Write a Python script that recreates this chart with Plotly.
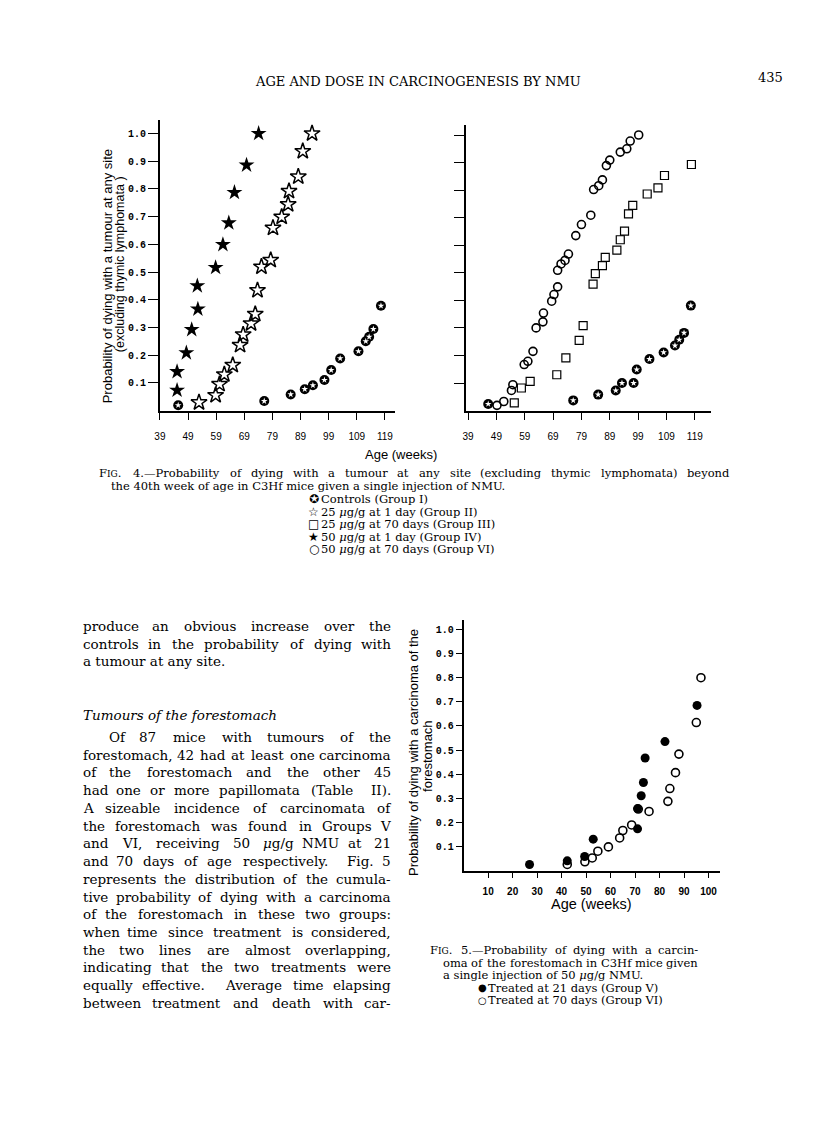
import re
import plotly.graph_objects as go

W, H = 816, 1124

# ---------------- data ----------------
# Fig. 4, left panel: age (weeks) vs cumulative probability
controls_left_age = [45.5, 76.1, 85.5, 90.5, 93.4, 97.5, 99.9, 103.1, 109.6, 112.2, 113.4, 114.9, 117.6]
controls_left_prob = [0.019, 0.034, 0.058, 0.077, 0.091, 0.110, 0.146, 0.188, 0.214, 0.250, 0.266, 0.294, 0.378]
group2_age = [52.9, 58.8, 60.2, 61.9, 64.9, 67.5, 68.6, 71.4, 72.9, 73.7, 75.1, 78.4, 79.2, 82.3, 84.6, 84.9, 88.2, 89.8, 93.1]
group2_prob = [0.029, 0.055, 0.095, 0.130, 0.164, 0.236, 0.274, 0.314, 0.348, 0.434, 0.519, 0.543, 0.659, 0.699, 0.744, 0.792, 0.844, 0.936, 1.0]
group4_age = [45.1, 45.1, 48.4, 50.3, 52.5, 52.3, 58.8, 61.4, 63.5, 65.5, 69.8, 74.1]
group4_prob = [0.073, 0.140, 0.208, 0.292, 0.366, 0.450, 0.516, 0.599, 0.677, 0.787, 0.886, 1.0]

# Fig. 4, right panel
controls_right_age = [46.1, 76.1, 84.9, 91.1, 93.3, 97.4, 98.5, 103.0, 108.0, 112.0, 113.5, 115.2, 117.6]
controls_right_prob = [0.024, 0.037, 0.058, 0.073, 0.100, 0.100, 0.149, 0.187, 0.211, 0.236, 0.257, 0.282, 0.381]
group3_age = [55.3, 57.8, 60.9, 70.3, 73.5, 78.2, 79.6, 83.1, 83.9, 86.4, 87.4, 91.5, 92.7, 94.2, 95.6, 97.1, 102.2, 106.0, 108.3, 117.8]
group3_prob = [0.028, 0.082, 0.106, 0.130, 0.191, 0.255, 0.308, 0.459, 0.497, 0.526, 0.556, 0.582, 0.620, 0.651, 0.714, 0.745, 0.786, 0.808, 0.853, 0.893]
group6_age = [49.2, 51.6, 54.3, 54.8, 58.8, 60.1, 61.9, 63.0, 65.4, 65.6, 68.5, 69.3, 70.6, 70.6, 71.8, 73.2, 74.4,
              77.0, 79.0, 82.3, 83.3, 85.1, 86.4, 87.8, 89.0, 92.7, 95.0, 96.2, 99.2]
group6_prob = [0.019, 0.033, 0.073, 0.094, 0.167, 0.179, 0.215, 0.300, 0.322, 0.354, 0.397, 0.421, 0.449, 0.509, 0.532,
               0.545, 0.568, 0.635, 0.675, 0.709, 0.802, 0.816, 0.837, 0.889, 0.909, 0.938, 0.950, 0.978, 1.0]

# Fig. 5: carcinoma of the forestomach
group5_age = [26.9, 42.3, 49.4, 52.9, 71.0, 71.0, 72.5, 73.4, 74.1, 82.2, 95.3]
group5_prob = [0.025, 0.040, 0.058, 0.130, 0.173, 0.257, 0.310, 0.365, 0.467, 0.535, 0.685]
group6b_age = [42.3, 49.5, 52.5, 54.8, 59.1, 63.7, 65.0, 68.6, 71.3, 75.7, 83.4, 84.2, 86.5, 87.9, 95.0, 96.9]
group6b_prob = [0.025, 0.036, 0.052, 0.080, 0.098, 0.135, 0.166, 0.189, 0.255, 0.245, 0.287, 0.340, 0.406, 0.483, 0.614, 0.800]

fig4_xticks = [39, 49, 59, 69, 79, 89, 99, 109, 119]
prob_ticks = [0.1, 0.2, 0.3, 0.4, 0.5, 0.6, 0.7, 0.8, 0.9, 1.0]
fig5_xticks = [10, 20, 30, 40, 50, 60, 70, 80, 90, 100]

# ---------------- helpers ----------------
def px_x(v):
    return v / W

def px_y(v):
    return 1 - v / H

fig = go.Figure()

def add_pts(x, y, ax, symbol, size, color="black", lw=0, lc="black"):
    fig.add_trace(go.Scatter(
        x=x, y=y, mode="markers", xaxis=ax[0], yaxis=ax[1], cliponaxis=False,
        hoverinfo="skip",
        marker=dict(symbol=symbol, size=size, color=color, line=dict(width=lw, color=lc)),
    ))

L = ("x", "y")
R = ("x2", "y2")
F5 = ("x3", "y3")

# controls: black disc with white star
add_pts(controls_left_age, controls_left_prob, L, "circle", 10)
add_pts(controls_left_age, controls_left_prob, L, "star", 5, color="white")
add_pts(group2_age, group2_prob, L, "star-open", 12, lw=1.5)
add_pts(group4_age, group4_prob, L, "star", 12)

add_pts(controls_right_age, controls_right_prob, R, "circle", 10)
add_pts(controls_right_age, controls_right_prob, R, "star", 5, color="white")
add_pts(group3_age, group3_prob, R, "square-open", 8, lw=1.2)
add_pts(group6_age, group6_prob, R, "circle-open", 8, lw=1.6)

add_pts(group5_age, group5_prob, F5, "circle", 9)
add_pts(group6b_age, group6b_prob, F5, "circle-open", 8, lw=1.6)

axis_common = dict(showline=True, linecolor="black", linewidth=1.6, showgrid=False, zeroline=False,
                   ticks="outside", tickcolor="black", tickwidth=1.4)

tickfont_x = dict(family="Liberation Sans", size=10, color="black")
tickfont_y = dict(family="Liberation Mono", size=10, color="black", weight="bold")

fig.update_layout(
    width=W, height=H, margin=dict(l=0, r=0, t=0, b=0),
    paper_bgcolor="white", plot_bgcolor="rgba(0,0,0,0)", showlegend=False,
    xaxis=dict(domain=[px_x(147), px_x(384)], range=[39, 39 + (384 - 147) / 2.833], anchor="y",
               tickvals=fig4_xticks, ticktext=[str(v) for v in fig4_xticks], ticklen=8,
               tickfont=tickfont_x, ticklabelstandoff=8, **axis_common),
    yaxis=dict(domain=[px_y(402.5), px_y(112)], range=[0, (402.5 - 112) / 277], anchor="x",
               tickvals=prob_ticks, ticktext=["%.1f" % v for v in prob_ticks], ticklen=10,
               tickfont=tickfont_y, ticklabelstandoff=0, **axis_common),
    xaxis2=dict(domain=[px_x(455), px_x(702)], range=[49 - 31 / 2.855, 49 + 216 / 2.855], anchor="y2",
                tickvals=fig4_xticks, ticktext=[str(v) for v in fig4_xticks], ticklen=8,
                tickfont=tickfont_x, ticklabelstandoff=8, **axis_common),
    yaxis2=dict(domain=[px_y(402.6), px_y(117)], range=[0, (402.6 - 117) / 275.6], anchor="x2",
                tickvals=prob_ticks, showticklabels=False, ticklen=10, **axis_common),
    xaxis3=dict(domain=[px_x(453), px_x(711)], range=[0, (711 - 453) / 2.467], anchor="y3",
                tickvals=fig5_xticks, ticktext=[str(v) for v in fig5_xticks], ticklen=6,
                tickfont=dict(family="Liberation Sans", size=10, color="black", weight="bold"),
                ticklabelstandoff=5, **axis_common),
    yaxis3=dict(domain=[px_y(862.5), px_y(612)], range=[0, (862.5 - 612) / 241], anchor="x3",
                tickvals=prob_ticks, ticktext=["%.1f" % v for v in prob_ticks], ticklen=6,
                tickfont=tickfont_y, ticklabelstandoff=0, **axis_common),
)

def ann(px, py, text, size, family="DejaVu Serif", xanchor="left", yanchor="middle", angle=0):
    fig.add_annotation(x=px_x(px), y=px_y(py), xref="paper", yref="paper", text=text, showarrow=False,
                       font=dict(size=size, family=family, color="black"), xanchor=xanchor,
                       yanchor=yanchor, textangle=angle, borderpad=0)

# approximate advance widths (units of 1/2048 em)
CW = dict(a=1255, b=1300, c=1126, d=1300, e=1260, f=739, g=1300, h=1298, i=657, j=647, k=1247, l=657,
          m=1995, n=1298, o=1253, p=1300, q=1300, r=960, s=1067, t=821, u=1298, v=1212, w=1675,
          x=1212, y=1212, z=1075)
PUNCT = {" ": 651, ".": 651, ",": 651, ":": 690, "-": 739, "(": 799, ")": 799, "/": 690,
         "\u03bc": 1323, "\u2014": 2048}

def tw(word):
    s = re.sub(r"<[^>]+>", "", word)
    tot = 0
    for ch in s:
        if ch in CW:
            tot += CW[ch]
        elif ch.isdigit():
            tot += 1303
        elif ch in PUNCT:
            tot += PUNCT[ch]
        elif ch.isupper():
            tot += 1500
        else:
            tot += 1200
    return tot / 2048.0

SMALLCAPS_FIG = "F<span style='font-size:9px'>IG</span>."

def display(word):
    if word.startswith("FIG."):
        return SMALLCAPS_FIG + word[4:]
    return word

def width_of(word, size):
    if word.startswith("FIG."):
        return (tw("F") + tw("IG") * 0.78 + tw("." + word[4:])) * size
    return tw(word) * size

def justify(text, x0, x1, py, size, family="DejaVu Serif"):
    words, gw = [], []
    for t in text.split(" "):
        if t == "":
            gw[-1] += 0.8
        else:
            words.append(t)
            gw.append(1.0)
    gw = gw[:-1]
    widths = [width_of(w, size) for w in words]
    g = (x1 - x0 - sum(widths)) / sum(gw)
    x = x0
    n = len(words)
    for i, (w, wd) in enumerate(zip(words, widths)):
        d = display(w)
        if i == 0:
            ann(x0, py, d, size, family, "left")
        elif i == n - 1:
            ann(x1, py, d, size, family, "right")
        else:
            ann(x + wd / 2, py, d, size, family, "center")
        if i < n - 1:
            x += wd + g * gw[i]

# ---------------- page header ----------------
ann(407, 73, "AGE AND DOSE IN CARCINOGENESIS BY NMU", 13, xanchor="center")
ann(776, 69, "435", 13, xanchor="right")

# ---------------- Fig. 4 texts ----------------
ann(94, 268, "Probability of dying with a tumour at any site", 13, "Liberation Sans", "center", angle=-90)
ann(107, 256, "(excluding thymic lymphomata )", 12.5, "Liberation Sans", "center", angle=-90)
ann(390, 446, "Age (weeks)", 13, "Liberation Sans", "center")

cap_size = 11.5
justify("FIG. 4.\u2014Probability of dying with a tumour at any site "
        "(excluding thymic lymphomata) beyond", 85, 722, 465, cap_size)
ann(97, 478, "the 40th week of age in C3Hf mice given a single injection of NMU.", cap_size)
legend4 = [("\u272a", "Controls (Group I)"),
           ("\u2606", "25 <i>\u03bc</i>g/g at 1 day (Group II)"),
           ("\u25a1", "25 <i>\u03bc</i>g/g at 70 days (Group III)"),
           ("\u2605", "50 <i>\u03bc</i>g/g at 1 day (Group IV)"),
           ("\u25cb", "50 <i>\u03bc</i>g/g at 70 days (Group VI)")]
for k, (sym, txt) in enumerate(legend4):
    yy = 491 + 12.6 * k
    ann(302, yy, sym, 12, "DejaVu Sans", "center")
    ann(308, yy, txt, cap_size)

# ---------------- body text ----------------
bs = 13.5
justify("produce an obvious increase over the", 68, 381, 618, bs)
justify("controls in the probability of dying with", 68, 381, 635.7, bs)
ann(68, 653.4, "a tumour at any site.", bs)
ann(68, 707, "<i>Tumours of the forestomach</i>", bs)

para = [
    "Of 87 mice with tumours of the",
    "forestomach, 42 had at least one carcinoma",
    "of the forestomach and the other 45",
    "had one or more papillomata (Table II).",
    "A sizeable incidence of carcinomata of",
    "the forestomach was found in Groups V",
    "and VI, receiving 50 <i>\u03bc</i>g/g NMU at 21",
    "and 70 days of age respectively.  Fig. 5",
    "represents the distribution of the cumula-",
    "tive probability of dying with a carcinoma",
    "of the forestomach in these two groups:",
    "when time since treatment is considered,",
    "the two lines are almost overlapping,",
    "indicating that the two treatments were",
    "equally effective.  Average time elapsing",
    "between treatment and death with car-",
]
for k, line in enumerate(para):
    justify(line, 95 if k == 0 else 68, 381, 729 + 17.73 * k, bs)

# ---------------- Fig. 5 texts ----------------
ann(402, 745, "Probability of dying with a carcinoma of the", 13, "Liberation Sans", "center", angle=-90)
ann(416, 748, "forestomach", 13, "Liberation Sans", "center", angle=-90)
ann(582, 896, "Age (weeks)", 14.5, "Liberation Sans", "center")

justify("FIG. 5.\u2014Probability of dying with a carcin-", 418, 690, 942, cap_size)
justify("oma of the forestomach in C3Hf mice given", 431, 690, 954.5, cap_size)
ann(431, 967, "a single injection of 50 <i>\u03bc</i>g/g NMU.", cap_size)
ann(472, 979.5, "\u25cf", 10, "DejaVu Sans", "center")
ann(477, 979.5, "Treated at 21 days (Group V)", cap_size)
ann(472, 992, "\u25cb", 10, "DejaVu Sans", "center")
ann(477, 992, "Treated at 70 days (Group VI)", cap_size)

fig.write_html("out.html")
